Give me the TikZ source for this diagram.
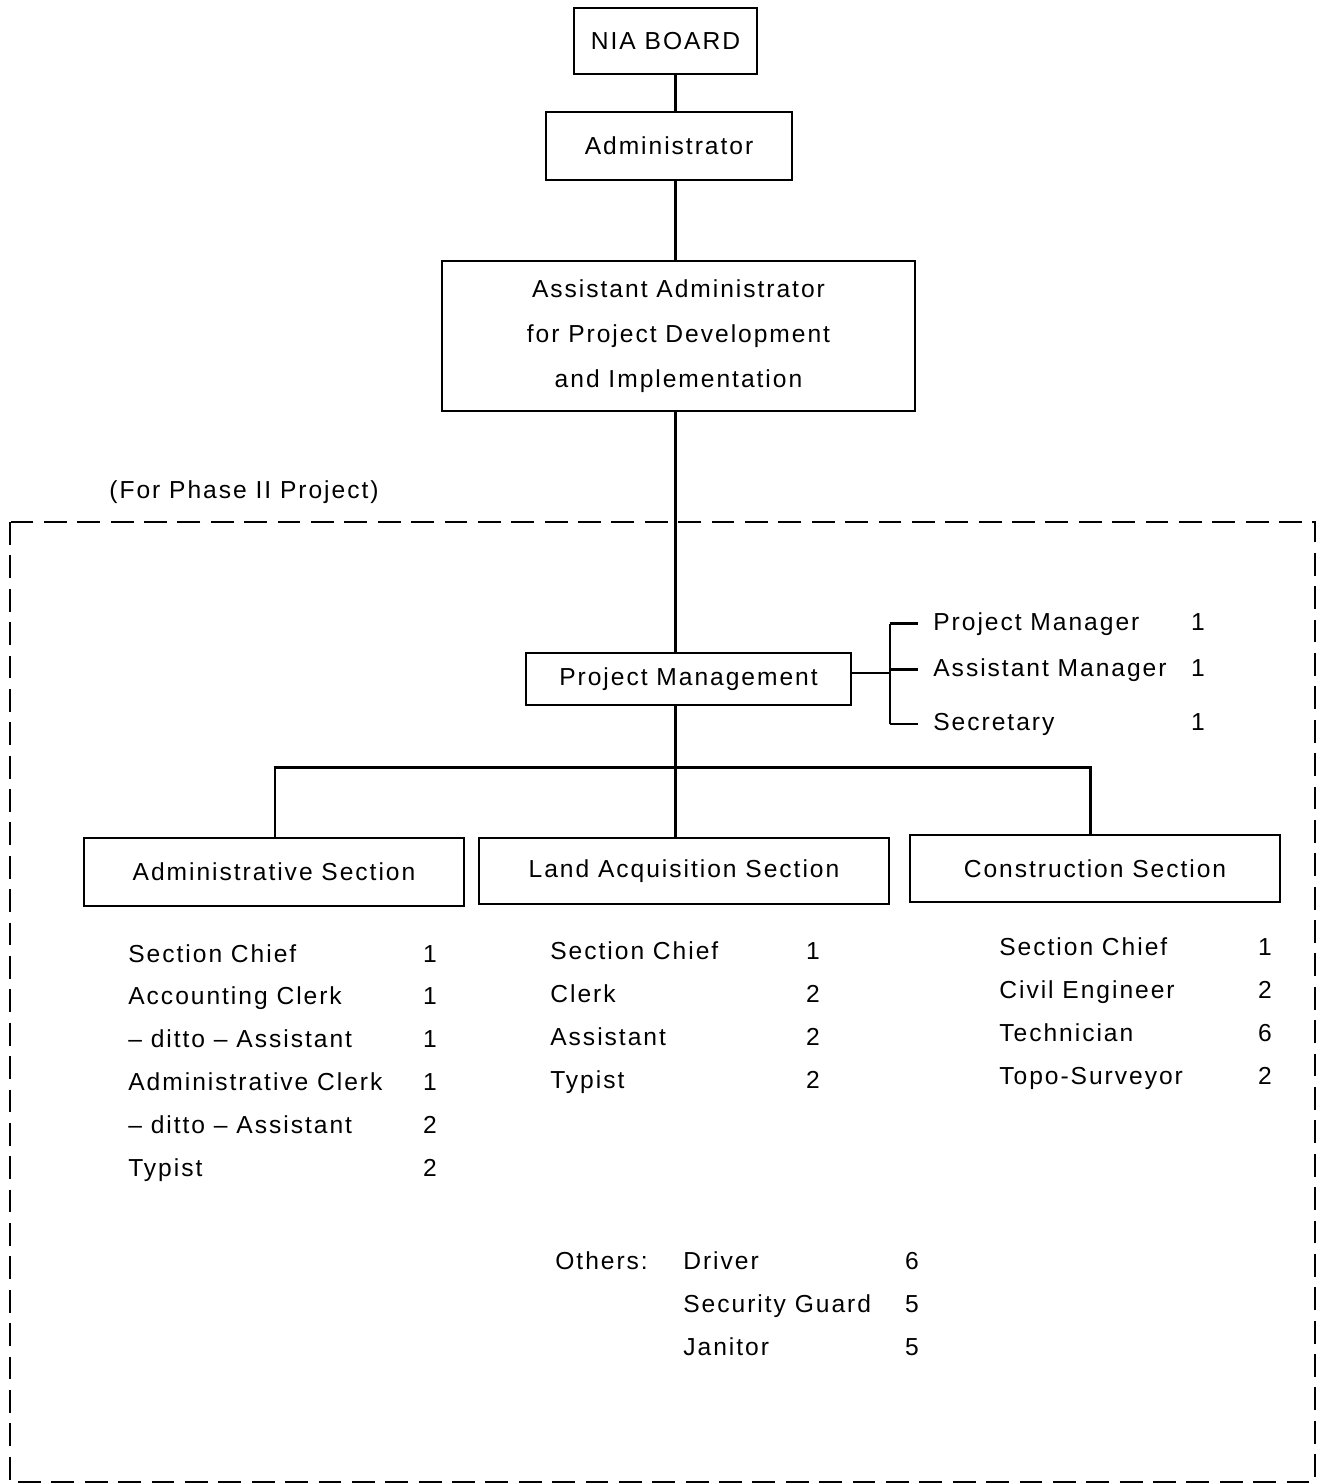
\documentclass[tikz,border=0pt]{standalone}
\usepackage{fontspec}
\setmainfont[LetterSpace=8]{Liberation Sans}
\usetikzlibrary{calc}

\begin{document}
\begin{tikzpicture}[x=0.02cm,y=-0.02cm,
	every node/.style={font=\fontsize{14}{17}\selectfont},
	unit/.style={draw,line width=0.9pt,inner sep=0pt},
	link/.style={line width=1.7pt},
	entry/.style={anchor=base west,inner sep=0pt},
	count/.style={anchor=base,inner sep=0pt}]
\useasboundingbox (0,0) rectangle (1321,1484);

% chain of command
\node[unit,minimum width=3.66cm,minimum height=1.32cm] (nia) at (665.5,41) {NIA BOARD};
\node[unit,minimum width=4.92cm,minimum height=1.36cm] (admin) at (669,146) {Administrator};
\node[unit,minimum width=9.46cm,minimum height=3cm,align=center,
	font=\fontsize{14}{25.5}\selectfont] (asst) at (678.5,336)
	{Assistant Administrator\\for Project Development\\and Implementation};

\coordinate (trunk) at (675,0);
\draw[link] (nia.south -| trunk) -- (admin.north -| trunk);
\draw[link] (admin.south -| trunk) -- (asst.north -| trunk);

% phase II frame
\node (phase) at (244,492) {(For Phase II Project)};
\draw[line width=1pt,dash pattern=on 13pt off 6pt] (10,522) rectangle (1315,1482);

\node[unit,minimum width=6.5cm,minimum height=1.04cm] (pm) at (688.5,679) {Project Management};
\draw[link] (asst.south -| trunk) -- (pm.north -| trunk);

% project management staff
\coordinate (brk) at (890,673);
\node[entry] (pmgr) at (933,630) {Project Manager};
\node[entry] (amgr) at (933,676) {Assistant Manager};
\node[entry] (secr) at (933,730) {Secretary};
\foreach \s/\y in {pmgr/630, amgr/676, secr/730}
	{
	\node[count] (\s n) at (1198,\y) {1};
	\draw[line width=1.5pt] (brk |- \s.west) -- ([xshift=-0.3cm]\s.west);
	}
\draw[line width=1.5pt] (brk |- pmgr.west) -- (brk |- secr.west);
\draw[line width=1.5pt] (pm.east |- brk) -- (brk);

% sections
\node[unit,minimum width=7.6cm,minimum height=1.36cm] (admsec) at (274,872) {Administrative Section};
\node[unit,minimum width=8.2cm,minimum height=1.32cm] (landsec) at (684,871) {Land Acquisition Section};
\node[unit,minimum width=7.4cm,minimum height=1.34cm] (consec) at (1095,868.5) {Construction Section};

\coordinate (busL) at (275,767);
\coordinate (busR) at (1090,767);
\draw[link] (pm.south -| trunk) -- (landsec.north -| trunk);
\draw[link] (admsec.north -| busL) -- (busL) -- (busR) -- (consec.north -| busR);

% staff lists
\foreach \name/\num [count=\i] in {Section Chief/1, Accounting Clerk/1,
	-- ditto -- Assistant/1, Administrative Clerk/1, -- ditto -- Assistant/2, Typist/2}
	{
	\node[entry] (adm\i) at (128,{962+42.8*(\i-1)}) {\name};
	\node[count] (adm\i n) at (430,{962+42.8*(\i-1)}) {\num};
	}
\foreach \name/\num [count=\i] in {Section Chief/1, Clerk/2, Assistant/2, Typist/2}
	{
	\node[entry] (land\i) at (550,{959+43*(\i-1)}) {\name};
	\node[count] (land\i n) at (813,{959+43*(\i-1)}) {\num};
	}
\foreach \name/\num [count=\i] in {Section Chief/1, Civil Engineer/2, Technician/6, Topo-Surveyor/2}
	{
	\node[entry] (con\i) at (999,{955+43*(\i-1)}) {\name};
	\node[count] (con\i n) at (1265,{955+43*(\i-1)}) {\num};
	}

\node[entry] (others) at (555,1269) {Others:};
\foreach \name/\num [count=\i] in {Driver/6, Security Guard/5, Janitor/5}
	{
	\node[entry] (oth\i) at (683,{1269+43*(\i-1)}) {\name};
	\node[count] (oth\i n) at (912,{1269+43*(\i-1)}) {\num};
	}
\end{tikzpicture}
\end{document}
